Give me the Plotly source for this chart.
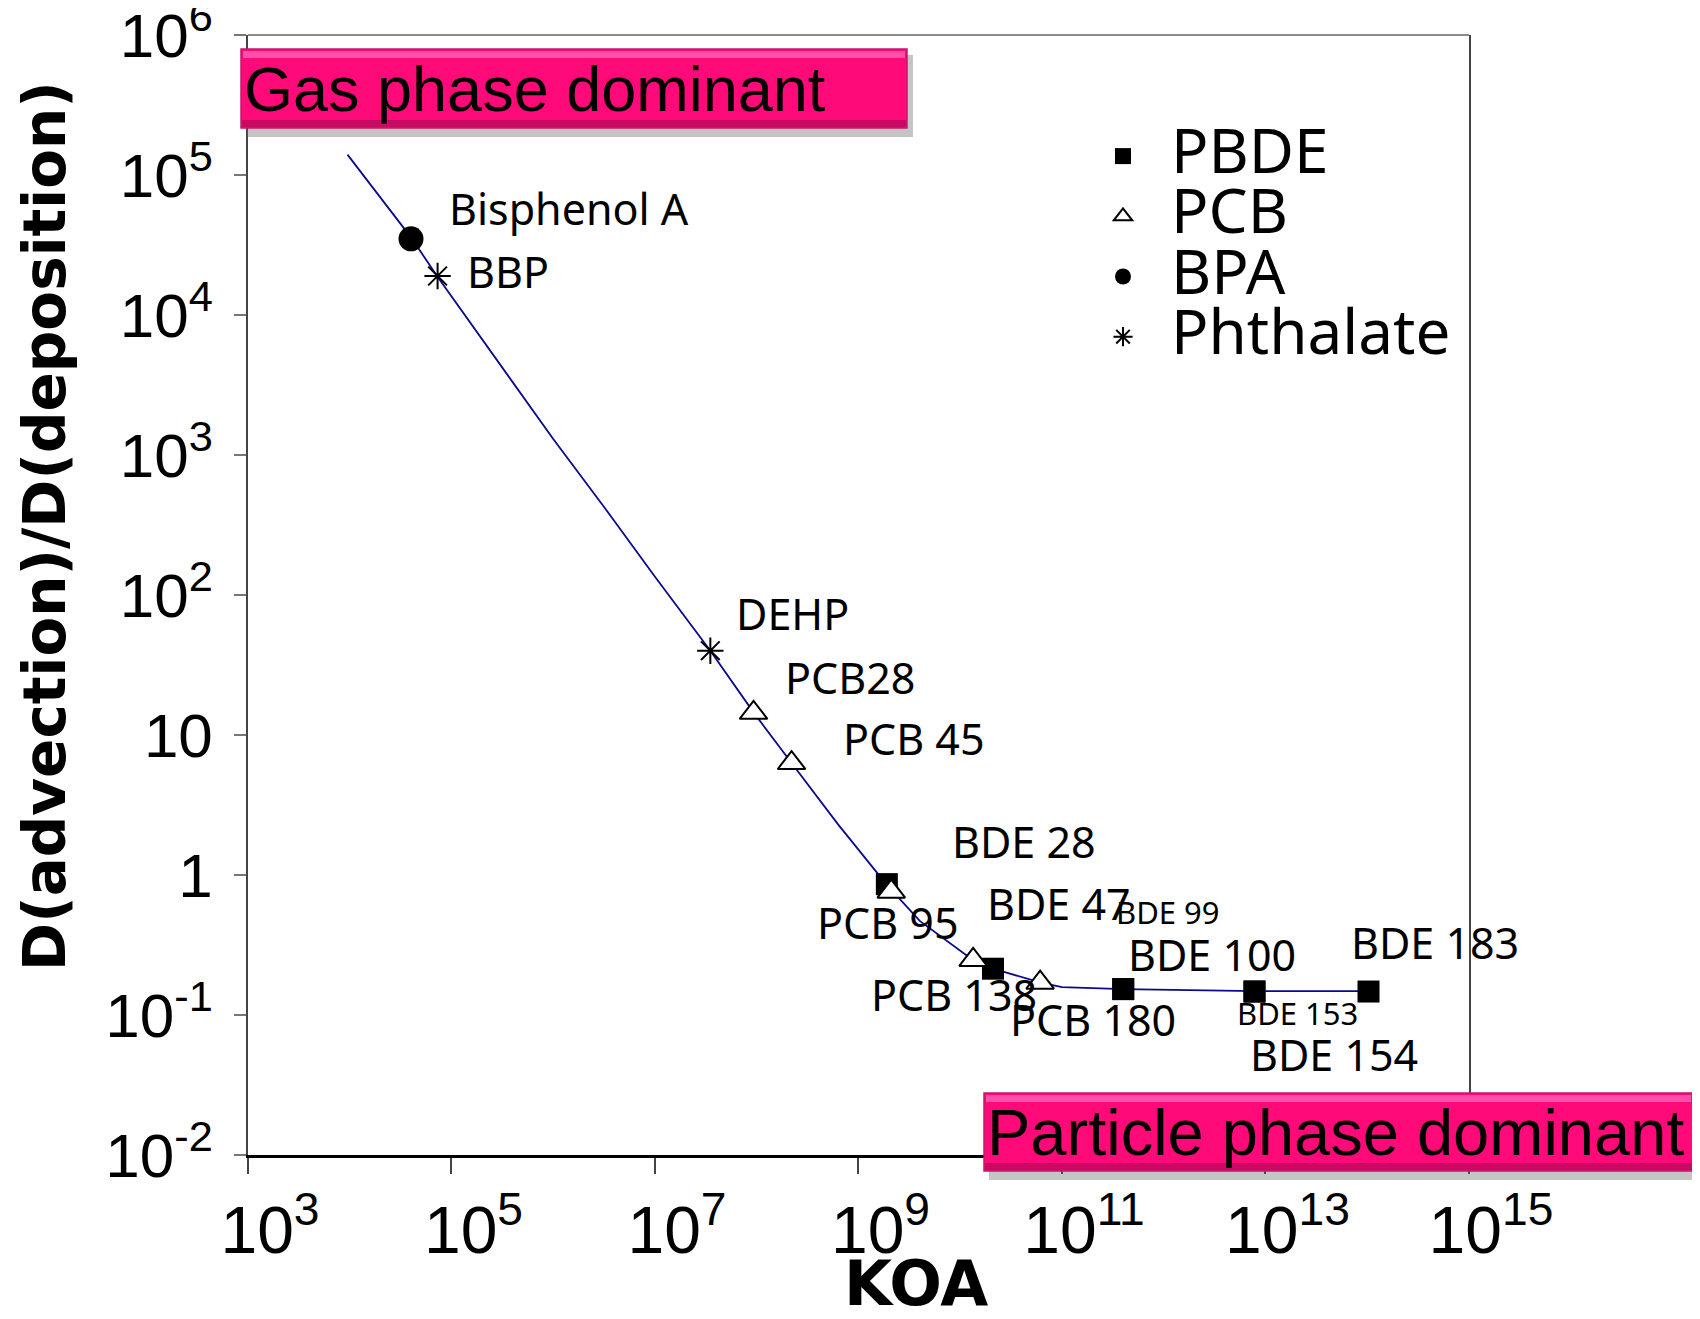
import plotly.graph_objects as go

# ---------------- data ----------------
curve_koa = [9.5e3, 4.1e4, 7.2e4, 3.2e5, 1.0e6, 3.2e6, 1.0e7, 3.5e7, 9.3e7, 2.2e8,
             6.3e8, 1.9e9, 4.0e9, 1.35e10, 2.1e10, 6.2e10, 1.0e11, 4.0e11, 7.9e12, 1.0e14]
curve_ratio = [1.4e5, 3.5e4, 1.9e4, 4.2e3, 1.3e3, 420, 135, 40, 14.5, 6.3,
               2.3, 0.85, 0.47, 0.245, 0.214, 0.17, 0.158, 0.153, 0.148, 0.148]

pbde_names = ["BDE 28", "BDE 47", "BDE 99", "BDE 100", "BDE 153", "BDE 154", "BDE 183"]
pbde_koa = [1.9e9, 2.1e10, 4.0e11, 4.0e11, 7.8e12, 7.8e12, 1.03e14]
pbde_ratio = [0.86, 0.214, 0.153, 0.153, 0.147, 0.147, 0.147]

pcb_names = ["PCB28", "PCB 45", "PCB 95", "PCB 138", "PCB 180"]
pcb_koa = [9.3e7, 2.2e8, 2.1e9, 1.34e10, 6.1e10]
pcb_ratio = [14.4, 6.3, 0.76, 0.247, 0.17]

bpa_names = ["Bisphenol A"]
bpa_koa = [4.0e4]
bpa_ratio = [3.5e4]

phth_names = ["BBP", "DEHP"]
phth_koa = [7.3e4, 3.5e7]
phth_ratio = [1.9e4, 40]

# label texts with (log10 KOA, log10 ratio) anchor of text's left-middle
label_text = ["Bisphenol A", "BBP", "DEHP", "PCB28", "PCB 45", "BDE 28", "PCB 95",
              "BDE 47", "BDE 99", "BDE 100", "PCB 138", "PCB 180", "BDE 153", "BDE 154", "BDE 183"]
label_logx = [4.957, 5.128, 7.777, 8.255, 8.83, 9.904, 8.574,
              10.245, 11.511, 11.628, 9.106, 10.468, 12.70, 12.83, 13.819]
label_logy = [4.761, 4.311, 1.871, 1.414, 0.973, 0.237, -0.336,
              -0.205, -0.266, -0.569, -0.855, -1.033, -0.987, -1.281, -0.483]
label_small = ["BDE 99", "BDE 153"]

ytick_vals = [1e-2, 1e-1, 1, 10, 1e2, 1e3, 1e4, 1e5, 1e6]
ytick_text = ["10<sup>-2</sup>", "10<sup>-1</sup>", "1", "10", "10<sup>2</sup>",
              "10<sup>3</sup>", "10<sup>4</sup>", "10<sup>5</sup>", "10<sup>6</sup>"]
xtick_vals = [1e3, 1e5, 1e7, 1e9, 1e11, 1e13, 1e15]
xtick_text = ["10<sup>3</sup>", "10<sup>5</sup>", "10<sup>7</sup>", "10<sup>9</sup>",
              "10<sup>11</sup>", "10<sup>13</sup>", "10<sup>15</sup>"]

# ---------------- layout geometry (image pixel coords, page has 8px body margin) ----------------
OFF = 8
W, H = 1700 - OFF, 1319 - OFF
PL, PR, PT, PB = 248, 1469, 35, 1155          # plot area in image pixels
ML, MR, MT, MB = PL - OFF, W - (PR - OFF), PT - OFF, H - (PB - OFF)
PW, PH = PR - PL, PB - PT


def px(x):
    return (x - PL) / PW


def py(y):
    return (PB - y) / PH


fig = go.Figure()

fig.add_trace(go.Scatter(x=curve_koa, y=curve_ratio, mode="lines",
                         line=dict(color="#0a0a8a", width=1.8),
                         showlegend=False, hoverinfo="skip"))

LEG = '<span style="font-size:62px">%s</span>'
fig.add_trace(go.Scatter(x=pbde_koa, y=pbde_ratio, mode="markers", name=LEG % "PBDE",
                         text=pbde_names,
                         marker=dict(symbol="square", size=22, color="black")))
fig.add_trace(go.Scatter(x=pcb_koa, y=pcb_ratio, mode="markers", name=LEG % "PCB",
                         text=pcb_names,
                         marker=dict(symbol="triangle-up", size=24, color="white",
                                     line=dict(color="black", width=2))))
fig.add_trace(go.Scatter(x=bpa_koa, y=bpa_ratio, mode="markers", name=LEG % "BPA",
                         text=bpa_names,
                         marker=dict(symbol="circle", size=25, color="black")))
fig.add_trace(go.Scatter(x=phth_koa, y=phth_ratio, mode="markers", name=LEG % "Phthalate",
                         text=phth_names,
                         marker=dict(symbol="asterisk-open", size=22, color="black",
                                     line=dict(color="black", width=2))))

annotations = []
for t, lx, ly in zip(label_text, label_logx, label_logy):
    annotations.append(dict(x=lx, y=ly, xref="x", yref="y", text=t, showarrow=False,
                            xanchor="left", yanchor="middle",
                            font=dict(family="Noto Sans", size=31 if t in label_small else 43,
                                      color="black")))

# axis titles
annotations.append(dict(x=px(45), y=py(526), xref="paper", yref="paper",
                        text="<b>D(advection)/D(deposition)</b>", textangle=-90,
                        showarrow=False, xanchor="center", yanchor="middle",
                        font=dict(family="DejaVu Sans", size=58, color="black")))
annotations.append(dict(x=px(916), y=py(1283), xref="paper", yref="paper",
                        text="<b>KOA</b>", showarrow=False, xanchor="center", yanchor="middle",
                        font=dict(family="DejaVu Sans", size=62, color="black")))

shapes = [
    # top frame line
    dict(type="line", xref="paper", yref="paper", x0=0, x1=1, y0=1, y1=1,
         line=dict(color="#666", width=1.5), layer="below"),
]


def banner(x0, x1, y0, y1, text, size):
    shapes.append(dict(type="rect", xref="paper", yref="paper",
                       x0=px(x0 + 5), x1=px(x1 + 6), y0=py(y1 + 9), y1=py(y0 + 6),
                       fillcolor="rgba(90,90,90,0.35)", line=dict(width=0), layer="above"))
    shapes.append(dict(type="rect", xref="paper", yref="paper",
                       x0=px(x0), x1=px(x1), y0=py(y1), y1=py(y0),
                       fillcolor="#FF0A78", line=dict(color="#C8146A", width=1.5), layer="above"))
    shapes.append(dict(type="rect", xref="paper", yref="paper",
                       x0=px(x0 + 2), x1=px(x1 - 2), y0=py(y0 + 9), y1=py(y0 + 2),
                       fillcolor="#FF4FA8", line=dict(width=0), layer="above"))
    shapes.append(dict(type="rect", xref="paper", yref="paper",
                       x0=px(x0 + 1), x1=px(x1 - 1), y0=py(y1 - 1), y1=py(y1 - 8),
                       fillcolor="#C70A62", line=dict(width=0), layer="above"))
    annotations.append(dict(x=px(x0 + 1), y=py((y0 + y1) / 2), xref="paper", yref="paper",
                            text=text, showarrow=False, xanchor="left", yanchor="middle",
                            font=dict(family="Liberation Sans", size=size, color="black")))


banner(241, 907, 49, 128, "Gas phase dominant", 63)
banner(984, 1693, 1093, 1171, "Particle phase dominant", 65)

fig.update_layout(
    width=W, height=H,
    margin=dict(l=ML, r=MR, t=MT, b=MB, autoexpand=False),
    paper_bgcolor="white", plot_bgcolor="white",
    showlegend=True,
    legend=dict(x=px(1075), y=py(121), xanchor="left", yanchor="top",
                font=dict(family="Noto Sans", size=44, color="black"),
                bgcolor="rgba(0,0,0,0)", itemsizing="trace", tracegroupgap=0,
                itemwidth=86),
    annotations=annotations,
    shapes=shapes,
    xaxis=dict(type="log", range=[3, 15.0005], tickvals=xtick_vals, ticktext=xtick_text,
               ticks="outside", ticklen=16, tickcolor="#444", tickwidth=1.5,
               showline=True, linecolor="black", linewidth=2.5, mirror=False,
               showgrid=False, zeroline=False, ticklabelstandoff=0, ticklabelshift=22,
               ticklabeloverflow="allow",
               tickfont=dict(family="Liberation Sans", size=66, color="black")),
    yaxis=dict(type="log", range=[-2.0005, 6.0005], tickvals=ytick_vals, ticktext=ytick_text,
               ticks="outside", ticklen=12, tickcolor="#777", tickwidth=1.5,
               showline=True, linecolor="#444", linewidth=1.5, mirror=True,
               showgrid=False, zeroline=False, ticklabelstandoff=9,
               ticklabeloverflow="allow",
               tickfont=dict(family="Liberation Sans", size=62, color="black")),
)

fig.write_html("out.html")
